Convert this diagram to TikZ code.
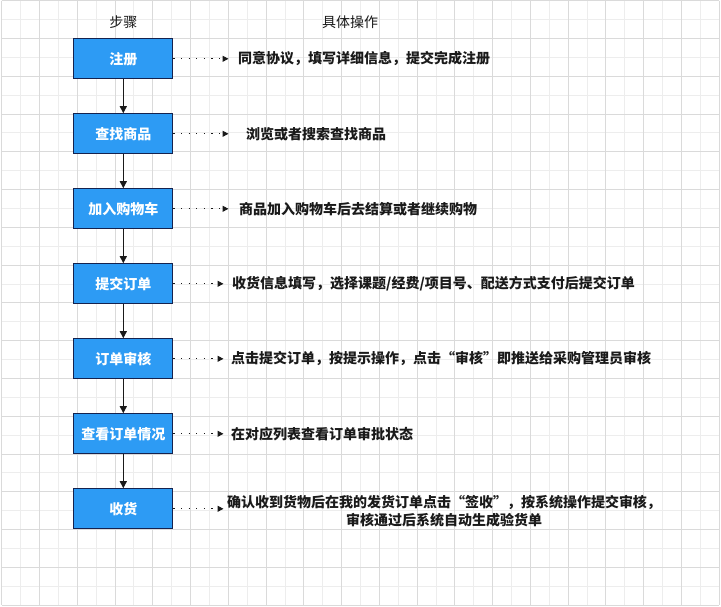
\documentclass[tikz,border=0pt]{standalone}
\usepackage{fontspec}
\setmainfont{Noto Sans CJK SC}
\usetikzlibrary{arrows.meta}
\definecolor{boxfill}{HTML}{2D9BF4}
\definecolor{boxline}{HTML}{15224E}
\definecolor{gridminor}{HTML}{EDEDED}
\definecolor{gridmajor}{HTML}{DADADA}
\definecolor{ink}{HTML}{1A1A1A}
\begin{document}
\begin{tikzpicture}[x=1pt,y=-1pt,
  stepbox/.style={draw=boxline, fill=boxfill, line width=1.2pt, minimum width=99pt, minimum height=40pt, inner sep=0pt, text=white, font=\fontsize{14}{16}\selectfont\bfseries},
  desc/.style={anchor=west, inner sep=0pt, text=ink, font=\fontsize{14}{18}\selectfont\bfseries},
  head/.style={inner sep=0pt, text=ink, font=\fontsize{14}{16}\selectfont},
  flow/.style={draw=ink, line width=1pt, -{Triangle[length=7pt,width=7pt]}},
  hint/.style={draw=ink, line width=1pt, dash pattern=on 1.2pt off 6.4pt, -{Triangle[length=6pt,width=6pt]}}]
\useasboundingbox (0,0) rectangle (721,606);
\fill[white] (0,0) rectangle (721,606);
% grid
\foreach \i in {0,...,38} {\draw[gridminor, line width=0.8pt] ({1.7+18.88*\i},0.6) -- ({1.7+18.88*\i},605);}
\foreach \j in {0,...,32} {\draw[gridminor, line width=0.8pt] (1.7,{0.6+18.89*\j}) -- (719.1,{0.6+18.89*\j});}
\foreach \i in {0,2,...,38} {\draw[gridmajor, line width=0.8pt] ({1.7+18.88*\i},0.6) -- ({1.7+18.88*\i},605);}
\foreach \j in {0,2,...,32} {\draw[gridmajor, line width=0.8pt] (1.7,{0.6+18.89*\j}) -- (719.1,{0.6+18.89*\j});}

% headers
\node[head] (h1) at (123.3,22.5) {步骤};
\node[head] (h2) at (350,22.5) {具体操作};

% step boxes
\node[stepbox] (s1) at (123.3,58.8) {注册};
\node[stepbox] (s2) at (123.3,133.8) {查找商品};
\node[stepbox] (s3) at (123.3,208.8) {加入购物车};
\node[stepbox] (s4) at (123.3,283.8) {提交订单};
\node[stepbox] (s5) at (123.3,358.8) {订单审核};
\node[stepbox] (s6) at (123.3,433.8) {查看订单情况};
\node[stepbox] (s7) at (123.3,508.8) {收货};

% descriptions
\node[desc] (d1) at (238,58.8) {同意协议，填写详细信息，提交完成注册};
\node[desc] (d2) at (246,133.8) {浏览或者搜索查找商品};
\node[desc] (d3) at (239,208.8) {商品加入购物车后去结算或者继续购物};
\node[desc] (d4) at (232,283.8) {收货信息填写，选择课题/经费/项目号、配送方式支付后提交订单};
\node[desc] (d5) at (231,358.8) {点击提交订单，按提示操作，点击“审核”即推送给采购管理员审核};
\node[desc] (d6) at (231,433.8) {在对应列表查看订单审批状态};
\node[desc, anchor=center, align=center] (d7) at (444,511) {确认收到货物后在我的发货订单点击“签收”，按系统操作提交审核，\\审核通过后系统自动生成验货单};

% arrow tips of the hint connectors
\coordinate (t1) at (228.5,58.8);
\coordinate (t2) at (228.5,133.8);
\coordinate (t3) at (228.5,208.8);
\coordinate (t4) at (223.5,283.8);
\coordinate (t5) at (223.5,358.8);
\coordinate (t6) at (223.5,433.8);
\coordinate (t7) at (223.5,508.8);

% flow connectors
\draw[flow] (s1.south) -- (s2.north);
\draw[flow] (s2.south) -- (s3.north);
\draw[flow] (s3.south) -- (s4.north);
\draw[flow] (s4.south) -- (s5.north);
\draw[flow] (s5.south) -- (s6.north);
\draw[flow] (s6.south) -- (s7.north);

% hint connectors
\foreach \k in {1,...,7} {\draw[hint] (s\k.east) -- (t\k);}
\end{tikzpicture}
\end{document}
